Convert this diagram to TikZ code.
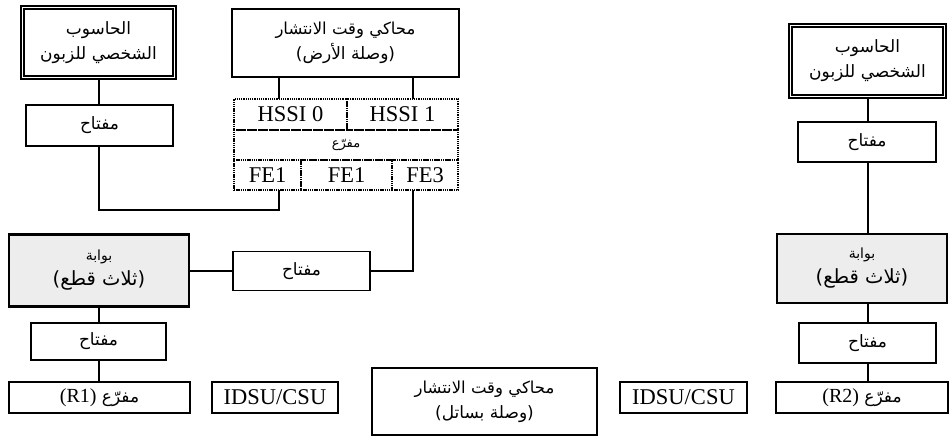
\documentclass[tikz,border=0pt]{standalone}
\usepackage{fontspec}
\setmainfont{Liberation Serif}
\newfontfamily\arfont[Script=Arabic]{DejaVu Sans}
\TeXXeTstate=1
\newcommand\fsz[1]{\fontsize{#1}{25}\selectfont}
\begin{document}
\begin{tikzpicture}[x=1pt,y=-1pt,
  every node/.style={inner sep=0pt, outer sep=0pt, align=center},
  lat/.style={font=\fontsize{22.5}{25}\selectfont},
  ar/.style={font=\arfont\fontsize{17}{25}\selectfont},
  arsmall/.style={font=\arfont\fontsize{13}{15}\selectfont},
  plain/.style={draw, line width=1.1pt},
  pcbox/.style={draw, double, line width=1.4pt, double distance=1.8pt},
  gwbox/.style={draw, line width=2.6pt, fill=black!7},
  cell/.style={draw, line width=1.6pt, dash pattern=on 1.3pt off 0.9pt},
  wire/.style={line width=1.8pt},
  sz/.style 2 args={minimum width=#1pt, minimum height=#2pt}
]
\useasboundingbox (0,0) rectangle (949,437);
\fill[white] (0,0) rectangle (949,437);
\coordinate (xl) at (99,0);
\coordinate (xa) at (279,0);
\coordinate (xb) at (413,0);
\coordinate (xr) at (868,0);
\coordinate (cA) at (279,210);

% left column
\node[pcbox, ar, sz={152}{70}] (pcL) at (98.5,42.5) {\beginR الحاسوب\endR\\\beginR الشخصي للزبون\endR};
\node[plain, ar, sz={147}{41}] (kL1) at (99.5,125.5) {\beginR مفتاح\endR};
\node[gwbox, ar, sz={180}{72}] (gwL) at (99,270.5) {{\fsz{14}\beginR بوابة\endR}\\{\fsz{19.5}\beginR (ثلاث قطع)\endR}};
\node[plain, ar, sz={135}{37}] (kL2) at (98.5,341.5) {\beginR مفتاح\endR};
\node[plain, ar, sz={181}{31}] (R1) at (99.5,397.5) {\beginR مفرّع \beginL{\rmfamily\fontsize{20}{22}\selectfont(R1)}\endL\endR};

% center
\node[plain, ar, sz={227}{68}] (simA) at (345.5,43) {{\fsz{16.5}\beginR محاكي وقت الانتشار\endR}\\{\fsz{17}\beginR (وصلة الأرض)\endR}};
\node[cell, lat, sz={113}{31}] (hs0) at (290.5,114.5) {HSSI 0};
\node[cell, lat, sz={111}{31}] (hs1) at (402.5,114.5) {HSSI 1};
\node[cell, arsmall, sz={224}{30}] (mid) at (346,145) {\beginR مفرّع\endR};
\node[cell, lat, sz={67}{30}] (fa) at (267.5,175) {FE1};
\node[cell, lat, sz={91}{30}] (fb) at (346.5,175) {FE1};
\node[cell, lat, sz={66}{30}] (f3) at (425,175) {FE3};
\node[plain, ar, sz={137}{39}] (kM) at (301.5,271) {\beginR مفتاح\endR};

% bottom row
\node[plain, lat, sz={126}{31}] (idL) at (275,397.5) {IDSU/CSU};
\node[plain, ar, sz={225}{67}] (simB) at (484.5,401.5) {{\fsz{16.5}\beginR محاكي وقت الانتشار\endR}\\{\fsz{17}\beginR (وصلة بساتل)\endR}};
\node[plain, lat, sz={127}{31}] (idR) at (683.5,397.5) {IDSU/CSU};
\node[plain, ar, sz={172}{31}] (R2) at (862,397.5) {\beginR مفرّع \beginL{\rmfamily\fontsize{20}{22}\selectfont(R2)}\endL\endR};

% right column
\node[pcbox, ar, sz={154}{71}] (pcR) at (867.5,61) {\beginR الحاسوب\endR\\\beginR الشخصي للزبون\endR};
\node[plain, ar, sz={138}{40}] (kR1) at (867,142) {\beginR مفتاح\endR};
\node[gwbox, ar, sz={170}{69}] (gwR) at (862,268.5) {{\fsz{14}\beginR بوابة\endR}\\{\fsz{19.5}\beginR (ثلاث قطع)\endR}};
\node[plain, ar, sz={137}{40}] (kR2) at (867.5,343) {\beginR مفتاح\endR};

% wires
\draw[wire] (pcL.south -| xl) -- (kL1.north -| xl);
\draw[wire] (kL1.south -| xl) |- (cA) -- (fa.south -| cA);
\draw[wire] (simA.south -| xa) -- (hs0.north -| xa);
\draw[wire] (simA.south -| xb) -- (hs1.north -| xb);
\draw[wire] (f3.south -| xb) |- (kM.east);
\draw[wire] (kM.west) -- (kM.west -| gwL.east);
\draw[wire] (gwL.south -| xl) -- (kL2.north -| xl);
\draw[wire] (kL2.south -| xl) -- (R1.north -| xl);
\draw[wire] (pcR.south -| xr) -- (kR1.north -| xr);
\draw[wire] (kR1.south -| xr) -- (gwR.north -| xr);
\draw[wire] (gwR.south -| xr) -- (kR2.north -| xr);
\draw[wire] (kR2.south -| xr) -- (R2.north -| xr);
\end{tikzpicture}
\end{document}
